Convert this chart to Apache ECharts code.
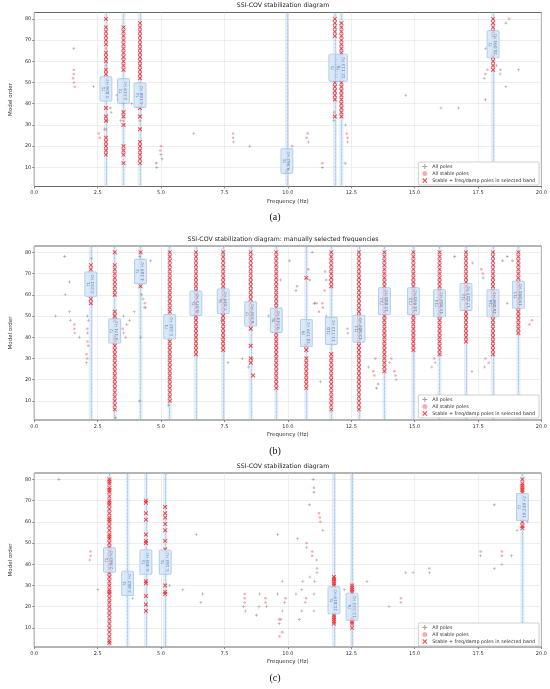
<!DOCTYPE html>
<html>
<head>
    <meta charset="utf-8">
    <title>SSI-COV stabilization diagrams</title>
    <script src="https://cdn.jsdelivr.net/npm/echarts@6/dist/echarts.min.js"></script>
    <style>
        html, body { margin: 0; padding: 0; background: #fff; }
    </style>
</head>
<body>
    <div id="main" style="width: 550px;height:689px;"></div>
    <script type="text/javascript">
        // tick values
        var xTicks = [0, 2.5, 5, 7.5, 10, 12.5, 15, 17.5, 20];
        var yTicks = [10, 20, 30, 40, 50, 60, 70, 80];

        var titles = [
            'SSI-COV stabilization diagram',
            'SSI-COV stabilization diagram: manually selected frequencies',
            'SSI-COV stabilization diagram'
        ];
        var panelTags = ['(a)', '(b)', '(c)'];

        // ---- panel (a) ----
        // selected columns: [freq, model orders with a red x]
        var selA = [
            [2.826, [80, 76, 74, 72, 70, 68, 64, 62, 60, 56, 54, 38, 34, 32, 24, 22, 20, 18, 16]],
            [3.519, [76, 74, 72, 70, 68, 66, 64, 62, 60, 58, 56, 36, 34, 30, 20, 18, 16, 12]],
            [4.168, [78, 76, 74, 72, 70, 68, 66, 64, 62, 60, 58, 56, 54, 52, 38, 34, 28, 22, 20, 18, 16, 14, 12]],
            [9.962, [8]],
            [11.853, [80, 78, 76, 74, 72, 50, 48, 46, 44, 42, 34]],
            [12.113, [78, 76, 74, 72, 70, 68, 66, 64, 50, 48, 46, 44, 42, 40, 38, 36, 34]],
            [18.094, [80, 78, 76, 74, 72, 62, 60, 58, 56]]
        ];
        // boxes: [freq, order at box centre, name, label]
        var boxA = [
            [2.826, 47, 'f1', '2.826 Hz'],
            [3.519, 46, 'f2', '3.519 Hz'],
            [4.168, 44, 'f3', '4.168 Hz'],
            [9.962, 13, 'f4', '9.962 Hz'],
            [11.853, 57, 'f5', '11.853 Hz'],
            [12.113, 57, 'f6', '12.113 Hz'],
            [18.094, 68, 'f7', '18.094 Hz']
        ];
        var allA = [[1.56, 66], [2.33, 48], [2.76, 28], [3.03, 36], [2.9, 32], [3.29, 42], [3.41, 32], [3.84, 40],
            [4.83, 10], [5.0, 16], [5.04, 14], [6.29, 26], [7.86, 22], [8.5, 20], [10.81, 22], [11.36, 10],
            [11.81, 32], [12.28, 30], [12.35, 22], [12.26, 12], [14.65, 44], [16.04, 38], [16.73, 38],
            [17.79, 42], [17.74, 52], [17.79, 66], [18.22, 58], [18.37, 54], [18.6, 48], [19.1, 56], [18.6, 78],
            [2.826, 58], [3.519, 40], [4.168, 48], [12.113, 60]];
        var stabA = [[1.56, 56], [1.56, 54], [1.53, 52], [1.56, 50], [1.6, 48], [2.55, 26], [2.58, 24], [3.0, 38],
            [3.26, 44], [4.81, 12], [5.0, 20], [4.97, 18], [7.84, 26], [7.84, 24], [10.17, 20], [10.74, 24],
            [10.78, 26], [11.36, 12], [12.32, 26], [12.35, 24], [17.79, 54], [17.87, 56], [18.38, 56], [18.73, 80],
            [2.826, 66], [2.826, 28], [3.519, 32], [4.168, 32], [11.83, 36], [18.094, 64]];

        // ---- panel (b) ----
        var selB = [
            [2.231, [74, 72, 58, 56]],
            [3.174, [80, 74, 72, 70, 68, 66, 64, 62, 60, 52, 50, 48, 40, 38, 36, 34, 32, 30, 28, 26, 24, 22, 20, 18, 16, 14, 12, 10, 8, 6]],
            [4.189, [80, 64]],
            [5.342, [80, 78, 76, 74, 72, 70, 68, 66, 64, 62, 60, 58, 56, 54, 52, 38, 36, 34, 32, 30, 28, 26, 24, 22, 20, 18, 16, 14, 12, 10]],
            [6.375, [80, 78, 76, 74, 72, 70, 68, 66, 64, 62, 60, 58, 56, 54, 52, 50, 48, 46, 44, 42, 40, 38, 36, 34, 32]],
            [7.449, [80, 78, 76, 74, 72, 70, 68, 66, 64, 62, 60, 58, 56, 54, 52, 50, 48, 46, 44, 42, 40, 38, 36, 34]],
            [8.535, [80, 78, 76, 74, 72, 70, 68, 66, 64, 62, 60, 58, 56, 54, 52, 50, 48, 46, 44, 36, 30, 28]],
            [8.63, [22]],
            [9.544, [80, 78, 76, 74, 72, 70, 68, 66, 64, 62, 60, 58, 56, 54, 52, 50, 48, 46, 44, 42, 40, 38, 36, 34, 32, 30, 28, 26, 24, 22, 20, 18, 16]],
            [10.729, [68, 36, 34, 30, 28, 26, 24, 22, 20, 18, 16]],
            [11.713, [80, 78, 76, 74, 72, 70, 68, 66, 64, 32, 30, 28, 26, 24, 22, 20, 18, 16, 14, 12, 10, 8, 6]],
            [12.802, [80, 78, 76, 74, 72, 70, 68, 66, 64, 62, 60, 58, 56, 54, 52, 50, 48, 46, 44, 42, 40, 38, 36, 34, 32, 30, 28, 26, 24, 22, 20, 18, 16, 14, 12, 10, 8, 6]],
            [13.808, [80, 78, 76, 74, 72, 70, 68, 66, 64, 62, 60, 58, 56, 54, 52, 50, 48, 46, 44, 42, 40, 38, 36, 34, 32, 30, 28, 26, 24]],
            [14.950, [80, 78, 76, 74, 72, 70, 68, 66, 64, 62, 60, 58, 56, 54, 52, 50, 48, 46, 44, 42, 40, 38, 36, 34]],
            [15.983, [80, 78, 76, 74, 72, 70, 68, 66, 64, 62, 60, 58, 56, 54, 52, 50, 48, 46, 44, 42, 40, 38, 36, 34, 32]],
            [17.025, [80, 78, 76, 74, 72, 70, 68, 66, 64, 62, 60, 58, 56, 54, 52, 50, 48, 46, 44, 42, 40, 38]],
            [18.088, [80, 78, 76, 74, 72, 70, 68, 66, 64, 62, 60, 58, 56, 54, 52, 50, 48, 46, 44, 42, 40, 38, 36, 34, 32]],
            [19.091, [80, 78, 76, 74, 72, 70, 68, 66, 64, 62, 60, 58, 56, 54, 52, 50, 48, 46, 44, 42]]
        ];
        var boxB = [
            [2.231, 65, 'f1', '2.231 Hz'],
            [3.174, 43, 'f2', '3.174 Hz'],
            [4.189, 71, 'f3', '4.189 Hz'],
            [5.342, 45, 'f4', '5.342 Hz'],
            [6.375, 56, 'f5', '6.375 Hz'],
            [7.449, 57, 'f6', '7.449 Hz'],
            [8.535, 51, 'f7', '8.535 Hz'],
            [9.544, 48, 'f8', '9.544 Hz'],
            [10.729, 42, 'f9', '10.729 Hz'],
            [11.713, 43, 'f10', '11.713 Hz'],
            [12.802, 44, 'f11', '12.802 Hz'],
            [13.808, 57, 'f12', '13.808 Hz'],
            [14.950, 57, 'f13', '14.950 Hz'],
            [15.983, 56, 'f14', '15.983 Hz'],
            [17.025, 59, 'f15', '17.025 Hz'],
            [18.088, 56, 'f16', '18.088 Hz'],
            [19.091, 60, 'f17', '19.091 Hz']
        ];
        var allB = [[0.84, 50], [1.2, 78], [1.22, 60], [1.39, 66], [1.39, 52], [1.42, 48], [1.6, 42], [1.78, 40],
            [2.09, 50], [2.13, 48], [2.1, 42], [2.06, 28], [3.52, 50], [3.52, 42], [3.61, 40], [3.65, 46],
            [3.75, 48], [3.94, 52], [4.16, 78], [4.23, 60], [4.29, 58], [4.38, 54], [4.59, 76], [4.16, 10],
            [5.3, 8], [7.38, 48], [7.64, 28], [8.44, 26], [8.2, 30], [9.25, 50], [10.06, 76], [10.96, 80],
            [11.06, 56], [11.28, 19], [11.51, 50], [11.04, 56], [12.37, 42], [13.18, 26], [13.5, 16], [14.01, 28],
            [14.27, 20], [15.81, 28], [15.68, 26], [16.58, 78], [17.26, 24], [17.7, 68], [17.76, 26], [17.28, 75],
            [18.47, 76], [18.65, 78], [18.65, 56], [9.72, 67], [2.25, 77], [3.2, 2], [4.2, 40]];
        var stabB = [[1.58, 46], [1.58, 44], [2.09, 44], [2.1, 38], [2.13, 36], [2.06, 32], [2.09, 30], [3.49, 44],
            [4.36, 56], [10.81, 72], [10.87, 67], [10.36, 64], [10.32, 62], [11.47, 71], [11.51, 67], [11.45, 62],
            [11.36, 56], [11.38, 54], [11.23, 52], [11.13, 56], [12.35, 44], [13.37, 24], [13.41, 22], [13.45, 30],
            [13.56, 18], [14.08, 30], [14.2, 24], [14.24, 22], [15.77, 30], [17.63, 72], [17.69, 70], [17.79, 30],
            [17.92, 28], [18.86, 76], [19.53, 46], [19.63, 48], [4.35, 54], [8.6, 30]];

        // ---- panel (c) ----
        var selC = [
            [2.963, [80, 79, 78, 76, 75, 74, 72, 70, 69, 68, 66, 64, 62, 61, 60, 58, 56, 54, 53, 52, 50, 48, 46, 44, 42, 40, 38, 36, 34, 32, 30, 28, 27, 26, 24, 22, 20, 18, 16, 14, 12, 10, 8, 6, 4, 3]],
            [4.403, [70, 69, 64, 61, 54, 51, 50, 32, 31, 25, 21, 18]],
            [5.163, [67, 64, 62, 59, 56, 51, 47, 30, 27, 26]],
            [11.819, [34, 33, 32, 31, 30, 16, 15, 14, 13, 12]],
            [12.533, [30, 29, 28, 27, 14, 13, 12, 10]],
            [19.249, [80, 78, 77, 76, 75, 74, 60, 58, 57]]
        ];
        var boxC = [
            [2.963, 42, 'f1', '2.963 Hz'],
            [3.682, 31, 'f2', '3.682 Hz'],
            [4.403, 41, 'f3', '4.403 Hz'],
            [5.163, 41, 'f4', '5.163 Hz'],
            [11.819, 23, 'f5', '11.819 Hz'],
            [12.533, 20, 'f6', '12.533 Hz'],
            [19.249, 67, 'f7', '19.249 Hz']
        ];
        var allC = [[0.97, 80], [2.19, 42], [2.51, 28], [3.88, 24], [5.34, 30], [5.86, 28], [6.39, 54], [6.57, 22],
            [6.64, 26], [8.25, 20], [8.32, 18], [8.76, 16], [8.89, 26], [8.86, 20], [9.15, 20], [9.6, 26], [9.6, 54],
            [9.66, 12], [11.0, 80], [11.03, 74], [10.85, 68], [11.38, 56], [10.38, 52], [10.74, 48], [11.13, 42],
            [11.15, 36], [10.87, 34], [10.59, 32], [11.06, 32], [10.32, 26], [10.55, 28], [10.68, 22], [11.03, 26],
            [10.55, 18], [11.03, 18], [10.45, 14], [9.87, 22], [9.78, 18], [9.78, 32], [12.22, 28], [13.12, 32],
            [13.99, 20], [14.46, 22], [14.65, 36], [14.94, 36], [15.58, 36], [17.6, 44], [18.14, 38], [18.44, 40],
            [18.82, 44], [18.14, 68], [19.04, 56], [19.44, 60]];
        var stabC = [[2.22, 46], [2.22, 44], [8.3, 26], [8.3, 24], [8.3, 22], [9.12, 24], [9.12, 22], [9.66, 14],
            [9.67, 6], [11.03, 76], [11.23, 64], [11.26, 62], [11.28, 60], [10.74, 50], [10.96, 46], [10.96, 44],
            [11.15, 38], [10.72, 24], [9.91, 24], [9.72, 14], [9.78, 8], [14.46, 24], [15.58, 38], [17.6, 46],
            [18.44, 46], [18.44, 44], [3.682, 36]];

        var panels = [
            {sel: selA, box: boxA, all: allA, stab: stabA, top: 12.5, legendTop: 162},
            {sel: selB, box: boxB, all: allB, stab: stabB, top: 246, legendTop: 395},
            {sel: selC, box: boxC, all: allC, stab: stabC, top: 473, legendTop: 623}
        ];
        var PH = 174;
        var BAND = 0.08;

        var plusPath = 'path://M4,0H6V4H10V6H6V10H4V6H0V4H4Z';
        var crossPath = 'path://M1.5,0L5,3.5L8.5,0L10,1.5L6.5,5L10,8.5L8.5,10L5,6.5L1.5,10L0,8.5L3.5,5L0,1.5Z';
        var NAME_ALL = 'All poles', NAME_STAB = 'All stable poles', NAME_SEL = 'Stable + freq/damp poles in selected band';
        var FONT = 'DejaVu Sans';

        var grids = [], xAxes = [], yAxes = [], series = [], legends = [], titleList = [];

        panels.forEach(function (p, i) {
            grids.push({left: 24, right: 8, top: p.top, height: PH, show: true,
                borderColor: '#444', borderWidth: 0.8, backgroundColor: '#fff'});
            xAxes.push({
                gridIndex: i, type: 'value', min: 0, max: 20, interval: 2.5,
                name: 'Frequency (Hz)', nameLocation: 'middle', nameGap: 12,
                nameTextStyle: {fontSize: 5.5, color: '#333', fontFamily: FONT},
                axisLine: {show: false},
                axisTick: {show: true, length: 2, lineStyle: {color: '#444', width: 0.6}},
                axisLabel: {fontSize: 5, color: '#333', margin: 4, fontFamily: FONT,
                    formatter: function (v) { return v.toFixed(1); }},
                splitLine: {show: true, lineStyle: {color: '#e3e3e3', width: 0.6}}
            });
            yAxes.push({
                gridIndex: i, type: 'value', min: 1, max: 83,
                name: 'Model order', nameLocation: 'middle', nameGap: 13,
                nameTextStyle: {fontSize: 5.5, color: '#333', fontFamily: FONT},
                axisLine: {show: false},
                axisTick: {show: true, length: 2, customValues: yTicks, lineStyle: {color: '#444', width: 0.6}},
                axisLabel: {fontSize: 5, color: '#333', margin: 3, customValues: yTicks, fontFamily: FONT},
                splitLine: {show: true, lineStyle: {color: '#e3e3e3', width: 0.6}}
            });

            var freqs = p.box.map(function (b) { return b[0]; });
            var selPts = [];
            p.sel.forEach(function (c) {
                c[1].forEach(function (o) { selPts.push([c[0], o]); });
            });

            series.push({
                name: NAME_ALL, type: 'scatter', xAxisIndex: i, yAxisIndex: i, z: 2,
                symbol: plusPath, symbolSize: 3, itemStyle: {color: '#8a8a8a'},
                data: p.all,
                markArea: {silent: true, itemStyle: {color: 'rgba(160,200,236,0.3)'},
                    data: freqs.map(function (f) { return [{xAxis: f - BAND}, {xAxis: f + BAND}]; })}
            });
            series.push({
                name: NAME_STAB, type: 'scatter', xAxisIndex: i, yAxisIndex: i, z: 3,
                symbol: 'circle', symbolSize: 2.6, itemStyle: {color: 'rgba(238,120,120,0.75)'},
                data: p.stab
            });
            series.push({
                name: NAME_SEL, type: 'scatter', xAxisIndex: i, yAxisIndex: i, z: 4,
                symbol: crossPath, symbolSize: 4.4, itemStyle: {color: '#ff1010'},
                data: selPts,
                markLine: {silent: true, symbol: 'none', label: {show: false}, z: 3,
                    lineStyle: {color: '#6a9ccc', type: 'dotted', width: 0.7, opacity: 0.9},
                    data: freqs.map(function (f) { return {xAxis: f}; })}
            });
            series.push({
                name: 'boxes', type: 'scatter', xAxisIndex: i, yAxisIndex: i, z: 6,
                symbolSize: 1, itemStyle: {color: 'rgba(0,0,0,0)'}, silent: true,
                data: p.box,
                label: {
                    show: true, position: 'inside', rotate: 90,
                    formatter: function (prm) { return prm.data[2] + '\n' + prm.data[3]; },
                    fontSize: 4.3, lineHeight: 4.8, color: '#4d76a6', fontFamily: FONT, align: 'center',
                    backgroundColor: 'rgba(208,226,246,0.95)', borderColor: '#93bbe2', borderWidth: 0.6,
                    borderRadius: 1, padding: [1, 2.5]
                }
            });

            legends.push({
                data: [{name: NAME_ALL}, {name: NAME_STAB}, {name: NAME_SEL}],
                orient: 'vertical', right: 11, top: p.legendTop,
                itemWidth: 5, itemHeight: 5, itemGap: 2,
                textStyle: {fontSize: 4.8, color: '#333', fontFamily: FONT},
                backgroundColor: '#fff', borderColor: '#bbb', borderWidth: 0.7, borderRadius: 1,
                padding: [2, 4]
            });

            titleList.push({
                text: titles[i], left: 283, textAlign: 'center', top: p.top - 10, padding: 0,
                textStyle: {fontSize: 6.2, fontWeight: 'normal', color: '#222', fontFamily: FONT}
            });
            titleList.push({
                text: panelTags[i], left: 275, textAlign: 'center', top: p.top + PH + 26, padding: 0,
                textStyle: {fontSize: 10, fontWeight: 'normal', color: '#111', fontFamily: 'Liberation Serif'}
            });
        });

        var myChart = echarts.init(document.getElementById('main'));
        var option = {
            animation: false,
            backgroundColor: '#fff',
            title: titleList,
            legend: legends,
            grid: grids,
            xAxis: xAxes,
            yAxis: yAxes,
            series: series
        };
        myChart.setOption(option);
    </script>
</body>
</html>
